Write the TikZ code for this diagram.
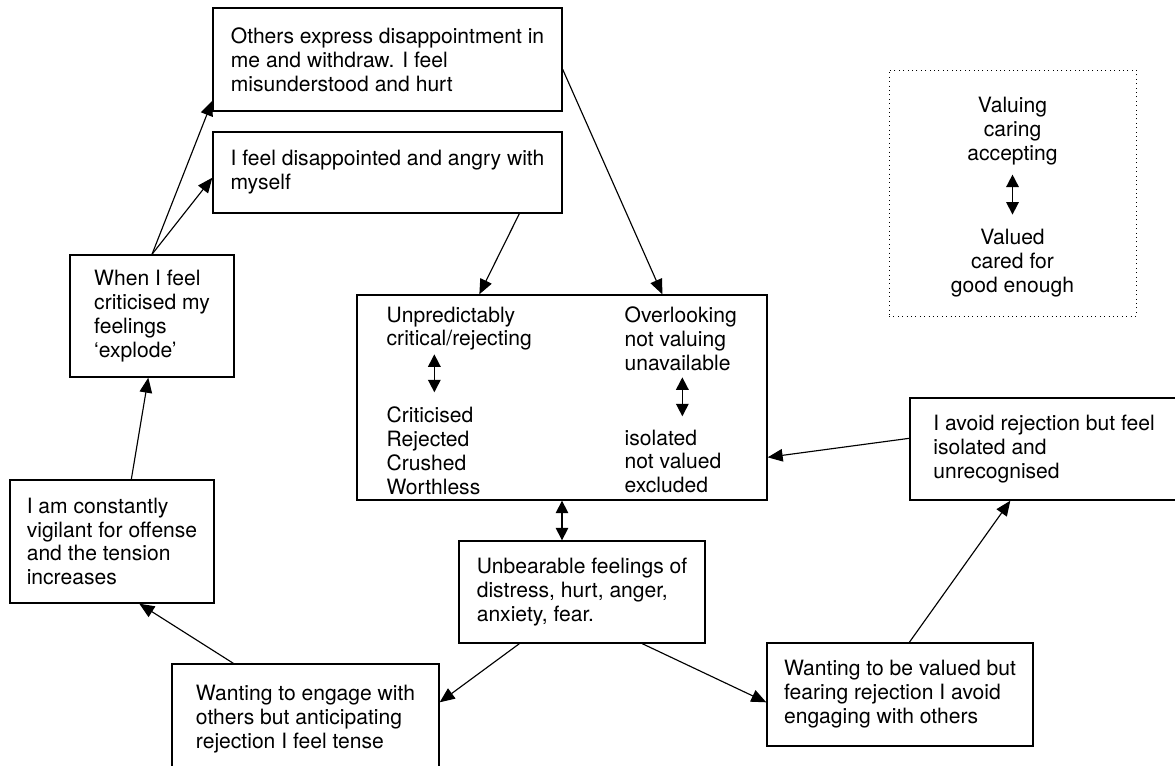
\documentclass[tikz,border=0pt]{standalone}
\usepackage{fontspec}
\setmainfont{TeX Gyre Heros}
\usetikzlibrary{calc,arrows.meta}
\tikzset{
	txt/.style={font=\fontsize{12pt}{13.6pt}\selectfont},
	box/.style={draw, line width=0.8pt, align=left, txt},
	col/.style={inner sep=0pt, anchor=north west, align=left, txt},
	flow/.style={-{Triangle[length=0.3cm,width=0.25cm]}, line width=0.65pt},
	twoway/.style={{Triangle[length=0.25cm,width=0.25cm]}-{Triangle[length=0.25cm,width=0.25cm]}, line width=0.9pt},
}
\begin{document}
\begin{tikzpicture}[x=0.02cm,y=-0.02cm]
			\useasboundingbox (0,0) rectangle (1175,766);
			%Boxes
			\node[box, minimum width=6.98cm, minimum height=2.06cm] (A) at (387.5,59.5) {Others express disappointment in\\me and withdraw. I feel\\misunderstood and hurt};
			\node[box, minimum width=6.98cm, minimum height=1.62cm] (B) at (387.5,172.5) {I feel disappointed and angry with\\myself};
			\node[box, minimum width=3.28cm, minimum height=2.44cm] (C) at (152,316) {When I feel\\criticised my\\feelings\\‘explode’};
			\node[box, minimum width=8.2cm, minimum height=4.1cm] (D) at (562,397.5) {};
			\node[box, minimum width=4.08cm, minimum height=2.46cm] (E) at (112,541.5) {I am constantly\\vigilant for offense\\and the tension\\increases};
			\node[box, minimum width=4.92cm, minimum height=2.04cm] (F) at (582,592) {Unbearable feelings of\\distress, hurt, anger,\\anxiety, fear.};
			\node[box, minimum width=5.34cm, minimum height=2.2cm] (G) at (305.5,719) {Wanting to engage with\\others but anticipating\\rejection I feel tense};
			\node[box, minimum width=5.36cm, minimum height=2.04cm] (H) at (1044,449) {I avoid rejection but feel\\isolated and\\unrecognised};
			\node[box, minimum width=5.32cm, minimum height=2.06cm] (I) at (900,694.5) {Wanting to be valued but\\fearing rejection I avoid\\engaging with others};
			\node[draw, dotted, line width=0.5pt, minimum width=4.94cm, minimum height=4.92cm] (K) at (1012.5,193) {};
			%Core states
			\node[col] (crit) at ($(D.north west)+(30,12)$) {Unpredictably\\critical/rejecting};
			\node[col] (critfeel) at ($(D.north west)+(30,112)$) {Criticised\\Rejected\\Crushed\\Worthless};
			\node[col] (over) at ($(D.north west)+(268,12)$) {Overlooking\\not valuing\\unavailable};
			\node[col] (overfeel) at ($(D.north west)+(268,135)$) {isolated\\not valued\\excluded};
			\node[col, anchor=north, align=center] (valuing) at ($(K.north)+(0,27)$) {Valuing\\caring\\accepting};
			\node[col, anchor=north, align=center] (valued) at ($(K.north)+(0,159)$) {Valued\\cared for\\good enough};
			\draw[twoway] ($(D.north west)+(78,60)$) -- ($(D.north west)+(78,98)$);
			\draw[twoway] ($(D.north west)+(326,83)$) -- ($(D.north west)+(326,122)$);
			\draw[twoway] ($(K.north)+(0,105)$) -- ($(K.north)+(0,145)$);
			%Arrows
			\draw[flow] (C.north) -- ($(A.south west)+(0,-11)$);
			\draw[flow] (C.north) -- ($(B.south west)+(0,-36)$);
			\draw[flow] ($(A.north east)+(0,62)$) -- ($(D.north west)+(306,0)$);
			\draw[flow] ($(B.south west)+(307,0)$) -- ($(D.north west)+(123,0)$);
			\draw[twoway] (D.south) -- (D.south |- F.north);
			\draw[flow] ($(H.north west)+(0,41)$) -- ($(D.north east)+(0,163)$);
			\draw[flow] ($(I.north west)+(143,0)$) -- ($(H.south west)+(101,0)$);
			\draw[flow] ($(F.south west)+(184,0)$) -- ($(I.north west)+(0,60)$);
			\draw[flow] ($(F.south west)+(61,0)$) -- ($(G.north east)+(0,39)$);
			\draw[flow] ($(G.north west)+(62,0)$) -- ($(E.south west)+(130,0)$);
			\draw[flow] ($(E.north west)+(122,0)$) -- ($(C.south west)+(79,0)$);
		\end{tikzpicture}
\end{document}
